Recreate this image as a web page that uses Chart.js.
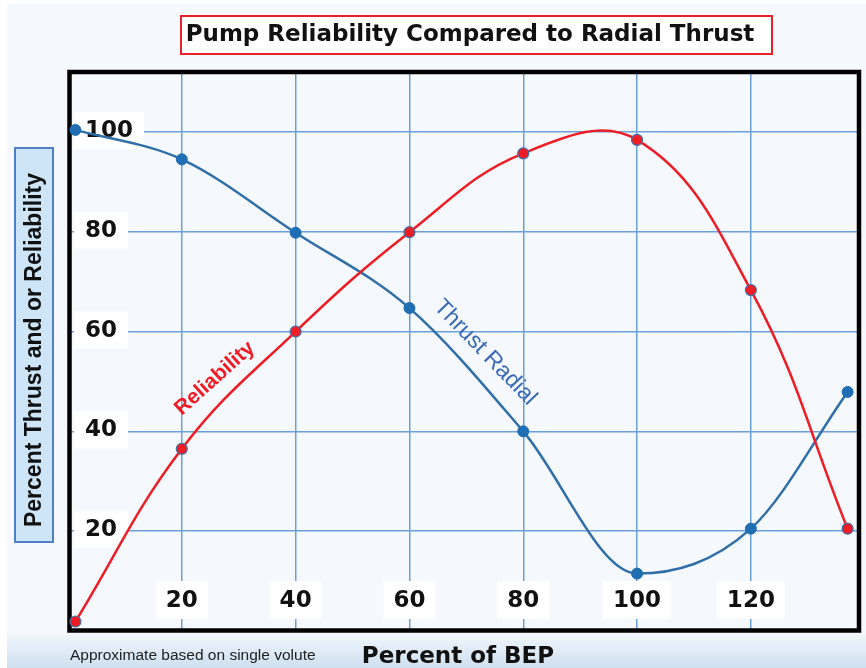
<!DOCTYPE html>
<html>
<head>
<meta charset="utf-8">
<title>Pump Reliability Compared to Radial Thrust</title>
<script src="https://cdn.jsdelivr.net/npm/chart.js@4.4.1/dist/chart.umd.min.js"></script>
<style>
    html, body { margin: 0; padding: 0; background: #ffffff; }
    #chartWrap { width: 866px; height: 668px; }
</style>
</head>
<body>
<div id="chartWrap">
    <canvas id="pumpChart" width="866" height="668"></canvas>
</div>
<script>
/* ==========================================
   Data
========================================== */

const bepPercent = [1.3, 20, 40, 60, 80, 100, 120, 137];

const thrustRadial = [100.4, 94.5, 79.8, 64.7, 40.0, 11.5, 20.5, 47.9];

const reliability = [1.9, 36.5, 60.0, 79.9, 95.7, 98.4, 68.3, 20.5];

const xTicks = [20, 40, 60, 80, 100, 120];

const yTicks = [20, 40, 60, 80, 100];

/* ==========================================
   Look
========================================== */

const BOLD_FONT = "bold 23px 'DejaVu Sans'";
const GRID_BLUE = "#6b9fd7";
const LINE_BLUE = "#2f6ea6";
const POINT_BLUE = "#1f6db3";
const LINE_RED = "#ee1d25";

function toPoints(xs, ys) {
    return xs.map((x, i) => ({ x: x, y: ys[i] }));
}

/* page background with the pale blue band at the bottom */
const pageBackground = {

    id: "pageBackground",

    beforeDraw(chart) {

        const c = chart.ctx;
        const w = chart.width;
        const h = chart.height;

        c.save();
        c.fillStyle = "#ffffff";
        c.fillRect(0, 0, w, h);
        c.fillStyle = "#f5f9fd";
        c.fillRect(7, 4, w - 7, h - 4);

        const band = c.createLinearGradient(0, 634, 0, h);
        band.addColorStop(0, "#f0f6fb");
        band.addColorStop(1, "#cfe0f0");
        c.fillStyle = band;
        c.fillRect(7, 634, w - 7, h - 634);
        c.restore();

    }

};

/* tick labels in white boxes inside the plot, plus the black frame */
const insideTicks = {

    id: "insideTicks",

    beforeDatasetsDraw(chart) {

        const c = chart.ctx;
        const area = chart.chartArea;
        const xScale = chart.scales.x;
        const yScale = chart.scales.y;

        c.save();
        c.font = BOLD_FONT;
        c.textBaseline = "middle";

        // y labels, left aligned just inside the frame
        yScale.ticks.forEach(t => {
            const label = String(t.value);
            const py = yScale.getPixelForValue(t.value) - 2;
            const left = area.left + 17;
            const tw = c.measureText(label).width;
            c.fillStyle = "#ffffff";
            c.fillRect(left - 11, py - 18, tw + 22, 37);
            c.fillStyle = "#111111";
            c.textAlign = "left";
            c.fillText(label, left, py + 1);
        });

        // x labels, centred on their grid line near the bottom
        xScale.ticks.forEach(t => {
            const label = String(t.value);
            const px = xScale.getPixelForValue(t.value);
            const py = area.bottom - 31;
            const tw = c.measureText(label).width;
            c.fillStyle = "#ffffff";
            c.fillRect(px - tw / 2 - 10, py - 19, tw + 20, 38);
            c.fillStyle = "#111111";
            c.textAlign = "center";
            c.fillText(label, px, py + 1);
        });

        // frame
        c.strokeStyle = "#000000";
        c.lineWidth = 4.5;
        c.strokeRect(area.left + 1.5, area.top, area.right - area.left - 1.5, area.bottom - area.top - 0.5);

        c.restore();

    },

    afterDatasetsDraw(chart) {

        const c = chart.ctx;
        const xScale = chart.scales.x;
        const yScale = chart.scales.y;

        c.save();
        c.textAlign = "center";
        c.textBaseline = "middle";

        // "Reliability" along the red curve
        c.translate(xScale.getPixelForValue(25.8), yScale.getPixelForValue(50.6));
        c.rotate(-42 * Math.PI / 180);
        c.font = "bold 21px 'Liberation Sans'";
        c.fillStyle = LINE_RED;
        c.fillText("Reliability", 0, 0);
        c.restore();

        c.save();
        c.textAlign = "center";
        c.textBaseline = "middle";

        // "Thrust Radial" along the blue curve
        c.translate(xScale.getPixelForValue(73.3), yScale.getPixelForValue(55.8));
        c.rotate(46 * Math.PI / 180);
        c.font = "23px 'Liberation Sans'";
        c.fillStyle = "#3a6ab4";
        c.fillText("Thrust Radial", 0, 0);
        c.restore();

    },

    afterDraw(chart) {

        const c = chart.ctx;

        c.save();

        // title box
        c.fillStyle = "#ffffff";
        c.fillRect(181, 16, 591, 38);
        c.strokeStyle = "#e8202a";
        c.lineWidth = 2;
        c.strokeRect(181, 16, 591, 38);
        c.fillStyle = "#111111";
        c.font = "bold 23px 'DejaVu Sans'";
        c.textAlign = "center";
        c.textBaseline = "middle";
        c.fillText("Pump Reliability Compared to Radial Thrust", 470, 35);

        // y axis title box
        c.fillStyle = "#cde5f7";
        c.fillRect(15, 148, 38, 394);
        c.strokeStyle = "#4f7fc4";
        c.lineWidth = 2;
        c.strokeRect(15, 148, 38, 394);
        c.save();
        c.translate(35, 350);
        c.rotate(-Math.PI / 2);
        c.fillStyle = "#111111";
        c.font = "bold 23px 'Liberation Sans'";
        c.fillText("Percent Thrust and or Reliability", 0, 0);
        c.restore();

        // x axis title and footnote
        c.textBaseline = "alphabetic";
        c.fillStyle = "#111111";
        c.font = "bold 23px 'DejaVu Sans'";
        c.fillText("Percent of BEP", 458, 663);

        c.textAlign = "left";
        c.fillStyle = "#222222";
        c.font = "15.5px 'Liberation Sans'";
        c.fillText("Approximate based on single volute", 70, 660);

        c.restore();

    }

};

/* ==========================================
   Chart
========================================== */

const chartCanvas = document.getElementById("pumpChart");

if (chartCanvas) {

    const ctx = chartCanvas.getContext("2d");

    new Chart(ctx, {

        type: "line",

        data: {

            datasets: [{

                label: "Reliability",

                data: toPoints(bepPercent, reliability),

                borderColor: LINE_RED,

                borderWidth: 2.5,

                tension: .4,

                fill: false,

                pointRadius: 5.5,

                pointBackgroundColor: LINE_RED,

                pointBorderColor: "#4570a6",

                pointBorderWidth: 1.2

            }, {

                label: "Thrust Radial",

                data: toPoints(bepPercent, thrustRadial),

                borderColor: LINE_BLUE,

                borderWidth: 2.5,

                cubicInterpolationMode: "monotone",

                fill: false,

                pointRadius: 5.5,

                pointBackgroundColor: POINT_BLUE,

                pointBorderColor: POINT_BLUE,

                pointBorderWidth: 1

            }]

        },

        options: {

            responsive: false,

            animation: false,

            layout: {
                padding: { left: 68, top: 72, right: 7, bottom: 37 }
            },

            plugins: {

                legend: {
                    display: false
                },

                tooltip: {
                    enabled: false
                }

            },

            scales: {

                x: {

                    type: "linear",

                    min: 0,

                    max: 139,

                    afterBuildTicks: scale => {
                        scale.ticks = xTicks.map(v => ({ value: v }));
                    },

                    ticks: {
                        display: false
                    },

                    grid: {
                        color: GRID_BLUE,
                        lineWidth: 1.5,
                        drawTicks: false
                    },

                    border: {
                        display: false
                    }

                },

                y: {

                    type: "linear",

                    min: 0,

                    max: 112,

                    afterBuildTicks: scale => {
                        scale.ticks = yTicks.map(v => ({ value: v }));
                    },

                    ticks: {
                        display: false
                    },

                    grid: {
                        color: GRID_BLUE,
                        lineWidth: 1.5,
                        drawTicks: false
                    },

                    border: {
                        display: false
                    }

                }

            }

        },

        plugins: [pageBackground, insideTicks]

    });

}
</script>
</body>
</html>
